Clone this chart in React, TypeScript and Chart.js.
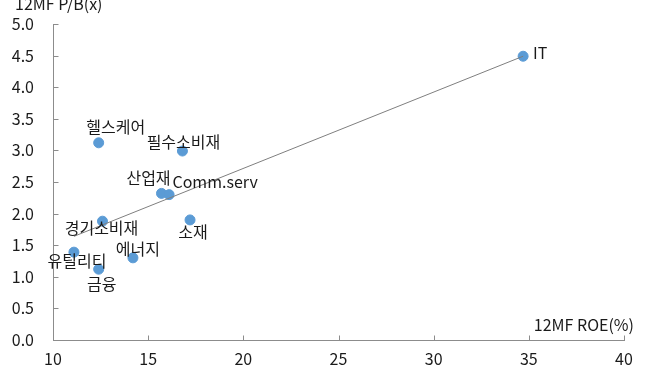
import React, { useEffect, useRef } from "react";
import { Chart, registerables } from "chart.js";

Chart.register(...registerables);

const sectors = ["IT", "헬스케어", "필수소비재", "산업재", "Comm.serv", "경기소비재", "소재", "에너지", "유틸리티", "금융"];
const roe = [34.7, 12.4, 16.8, 15.7, 16.1, 12.6, 17.2, 14.2, 11.1, 12.4];
const pb = [4.49, 3.12, 2.99, 2.32, 2.3, 1.88, 1.9, 1.3, 1.39, 1.12];
const trendX = [11.1, 34.7];
const trendY = [1.64, 4.49];
const xTicks = [10, 15, 20, 25, 30, 35, 40];
const yTicks = [0, 0.5, 1, 1.5, 2, 2.5, 3, 3.5, 4, 4.5, 5];

// label placement (pixel offsets from point centre)
const labelPlacement: [number, number][] = [
  [17, -3], [17, -16], [1, -9], [-13, -15], [46, -13],
  [-1, 7], [3, 12], [5, -9], [3, 9], [3, 15],
];

const FONT = "'Noto Sans CJK KR', 'Noto Sans', sans-serif";
const AXIS_COLOR = "#8c8c8c";
const TEXT_COLOR = "#1a1a1a";

export default function App() {
  const ref = useRef<HTMLCanvasElement | null>(null);
  useEffect(() => {
    if (!ref.current) return;
    const overlay = {
      id: "overlay",
      afterDraw(chart: any) {
        const ctx = chart.ctx;
        const xs = chart.scales.x;
        const ys = chart.scales.y;
        ctx.save();
        // inside tick marks
        ctx.strokeStyle = AXIS_COLOR;
        ctx.lineWidth = 1;
        const left = Math.round(xs.getPixelForValue(xTicks[0])) + 0.5;
        const bottom = Math.round(ys.getPixelForValue(yTicks[0])) + 0.5;
        ctx.beginPath();
        yTicks.forEach((v) => {
          const y = Math.round(ys.getPixelForValue(v)) + 0.5;
          ctx.moveTo(left, y);
          ctx.lineTo(left + 5, y);
        });
        xTicks.forEach((v) => {
          const x = Math.round(xs.getPixelForValue(v)) + 0.5;
          ctx.moveTo(x, bottom);
          ctx.lineTo(x, bottom - 5);
        });
        ctx.stroke();
        // axis titles
        ctx.fillStyle = TEXT_COLOR;
        ctx.font = `16px ${FONT}`;
        ctx.textBaseline = "middle";
        ctx.textAlign = "left";
        ctx.fillText("12MF P/B(x)", 15, 4);
        ctx.textAlign = "right";
        ctx.fillText("12MF ROE(%)", 634, 325);
        // data labels
        const meta = chart.getDatasetMeta(1);
        ctx.textAlign = "center";
        meta.data.forEach((pt: any, i: number) => {
          const [dx, dy] = labelPlacement[i];
          ctx.fillText(sectors[i], pt.x + dx, pt.y + dy);
        });
        ctx.restore();
      },
    };
    const chart = new Chart(ref.current, {
      type: "scatter",
      data: {
        datasets: [
          {
            type: "line",
            data: trendX.map((x, i) => ({ x, y: trendY[i] })),
            borderColor: "#7f7f7f",
            borderWidth: 1,
            pointRadius: 0,
            showLine: true,
            fill: false,
          } as any,
          {
            data: roe.map((x, i) => ({ x, y: pb[i] })),
            backgroundColor: "#5b9bd5",
            borderColor: "#5b9bd5",
            pointRadius: 5,
            pointHoverRadius: 5,
          },
        ],
      },
      options: {
        responsive: false,
        animation: false,
        events: [],
        layout: { padding: { top: 24, right: 24, left: 0, bottom: 0 } },
        plugins: { legend: { display: false }, tooltip: { enabled: false }, title: { display: false } },
        scales: {
          x: {
            type: "linear",
            min: 10,
            max: 40,
            afterBuildTicks: (s: any) => { s.ticks = xTicks.map((v) => ({ value: v })); },
            afterFit: (s: any) => { s.height = 39; s.paddingLeft = 0; s.paddingRight = 0; },
            grid: { display: false, drawTicks: false },
            border: { display: true, color: AXIS_COLOR, width: 1 },
            ticks: { padding: 9, color: TEXT_COLOR, font: { family: FONT, size: 16 }, maxRotation: 0 },
          },
          y: {
            type: "linear",
            min: 0,
            max: 5,
            afterBuildTicks: (s: any) => { s.ticks = yTicks.map((v) => ({ value: v })); },
            afterFit: (s: any) => { s.width = 53; s.paddingTop = 0; s.paddingBottom = 0; },
            grid: { display: false, drawTicks: false },
            border: { display: true, color: AXIS_COLOR, width: 1 },
            ticks: {
              padding: 19,
              color: TEXT_COLOR,
              font: { family: FONT, size: 16 },
              callback: (v: any) => Number(v).toFixed(1),
            },
          },
        },
      },
      plugins: [overlay],
    });
    return () => chart.destroy();
  }, []);
  return (
    <div style={{ position: "fixed", left: 0, top: 0, width: 648, height: 379, background: "#fff" }}>
      <canvas ref={ref} width={648} height={379} style={{ width: 648, height: 379, display: "block" }} />
    </div>
  );
}
